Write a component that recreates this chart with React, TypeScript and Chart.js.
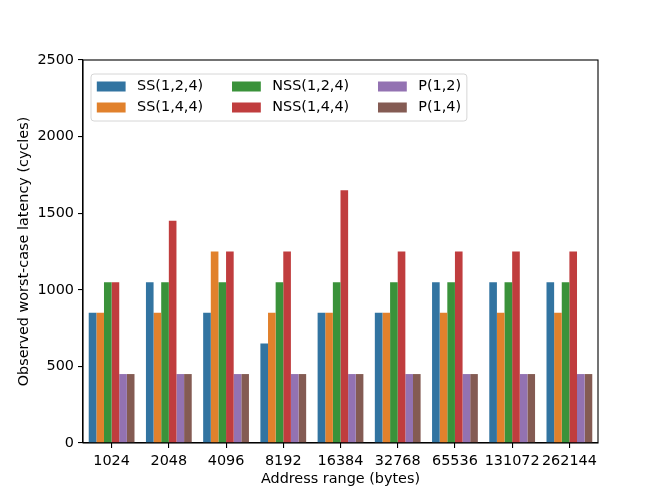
import React, { useEffect, useRef } from "react";
import { Chart, registerables } from "chart.js";

Chart.register(...registerables);

const categories = ["1024", "2048", "4096", "8192", "16384", "32768", "65536", "131072", "262144"];
const seriesLabels = ["SS(1,2,4)", "SS(1,4,4)", "NSS(1,2,4)", "NSS(1,4,4)", "P(1,2)", "P(1,4)"];
const ss124 = [850, 1050, 850, 650, 850, 850, 1050, 1050, 1050];
const ss144 = [850, 850, 1250, 850, 850, 850, 850, 850, 850];
const nss124 = [1050, 1050, 1050, 1050, 1050, 1050, 1050, 1050, 1050];
const nss144 = [1050, 1450, 1250, 1250, 1650, 1250, 1250, 1250, 1250];
const p12 = [450, 450, 450, 450, 450, 450, 450, 450, 450];
const p14 = [450, 450, 450, 450, 450, 450, 450, 450, 450];
const colors = ["#3274a1", "#e1812c", "#3a923a", "#c03d3e", "#9372b2", "#845b53"];

const FONT = "'DejaVu Sans', sans-serif";
const FS = 14.4;

const framePlugin = {
  id: "frame",
  afterDatasetsDraw(chart: any) {
    const { ctx, chartArea } = chart;
    ctx.save();
    ctx.strokeStyle = "#000";
    ctx.lineWidth = 1.1;
    ctx.strokeRect(chartArea.left, chartArea.top, chartArea.right - chartArea.left, chartArea.bottom - chartArea.top);
    ctx.restore();
  },
};

const legendPlugin = {
  id: "mplLegend",
  afterDraw(chart: any) {
    const { ctx, chartArea } = chart;
    const ds = chart.data.datasets;
    ctx.save();
    ctx.font = `${FS}px ${FONT}`;
    const rows = 2;
    const cols = Math.ceil(ds.length / rows);
    const handleW = 28.8;
    const handleH = 10;
    const textPad = 11.5;
    const colSpace = 28.8;
    const borderPad = 5.8;
    const boxLeft = chartArea.left + 8;
    const boxTop = chartArea.top + 14;
    const rowH = 21;
    const colWidths: number[] = [];
    for (let c = 0; c < cols; c++) {
      let w = 0;
      for (let r = 0; r < rows; r++) {
        const i = c * rows + r;
        if (i < ds.length) w = Math.max(w, ctx.measureText(ds[i].label).width);
      }
      colWidths.push(handleW + textPad + w);
    }
    const totalW = colWidths.reduce((a, b) => a + b, 0) + colSpace * (cols - 1) + borderPad * 2;
    const totalH = 47;
    const r = 3;
    ctx.beginPath();
    const x0 = boxLeft, y0 = boxTop, x1 = boxLeft + totalW, y1 = boxTop + totalH;
    ctx.moveTo(x0 + r, y0);
    ctx.lineTo(x1 - r, y0);
    ctx.quadraticCurveTo(x1, y0, x1, y0 + r);
    ctx.lineTo(x1, y1 - r);
    ctx.quadraticCurveTo(x1, y1, x1 - r, y1);
    ctx.lineTo(x0 + r, y1);
    ctx.quadraticCurveTo(x0, y1, x0, y1 - r);
    ctx.lineTo(x0, y0 + r);
    ctx.quadraticCurveTo(x0, y0, x0 + r, y0);
    ctx.closePath();
    ctx.fillStyle = "rgba(255,255,255,0.8)";
    ctx.fill();
    ctx.strokeStyle = "#d6d6d6";
    ctx.lineWidth = 1;
    ctx.stroke();
    let cx = boxLeft + borderPad;
    for (let c = 0; c < cols; c++) {
      for (let rr = 0; rr < rows; rr++) {
        const i = c * rows + rr;
        if (i >= ds.length) continue;
        const cy = boxTop + 12.5 + rr * rowH;
        ctx.fillStyle = ds[i].backgroundColor;
        ctx.fillRect(cx, cy - handleH / 2, handleW, handleH);
        ctx.fillStyle = "#000";
        ctx.textBaseline = "middle";
        ctx.textAlign = "left";
        ctx.fillText(ds[i].label, cx + handleW + textPad, cy);
      }
      cx += colWidths[c] + colSpace;
    }
    ctx.restore();
  },
};

export default function App() {
  const ref = useRef<HTMLCanvasElement | null>(null);
  useEffect(() => {
    document.body.style.margin = "0";
    if (!ref.current) return;
    const values = [ss124, ss144, nss124, nss144, p12, p14];
    const tickFont = { family: FONT, size: FS };
    const chart = new Chart(ref.current, {
      type: "bar",
      data: {
        labels: categories,
        datasets: values.map((v, i) => ({
          label: seriesLabels[i],
          data: v,
          backgroundColor: colors[i],
          borderWidth: 0,
          categoryPercentage: 0.8,
          barPercentage: 1.0,
        })),
      },
      options: {
        responsive: false,
        animation: false,
        layout: { padding: { left: 0, top: 60, right: 66, bottom: 0 } },
        plugins: { legend: { display: false }, tooltip: { enabled: false } },
        scales: {
          x: {
            offset: true,
            grid: { display: true, offset: false, drawOnChartArea: false, drawTicks: true, tickLength: 5, color: "#000", lineWidth: 1.1 },
            border: { display: true, color: "#000", width: 1.1 },
            ticks: { color: "#000", font: tickFont, padding: 5, maxRotation: 0, autoSkip: false },
            title: { display: true, text: "Address range (bytes)", color: "#000", font: tickFont, padding: { top: 0, bottom: 10.4 } },
            afterFit: (s: any) => { s.height = 55; },
          },
          y: {
            min: 0,
            max: 2500,
            grid: { display: true, drawOnChartArea: false, drawTicks: true, tickLength: 5, color: "#000", lineWidth: 1.1 },
            border: { display: true, color: "#000", width: 1.1 },
            ticks: { stepSize: 500, color: "#000", font: tickFont, padding: 4, callback: (v: any) => String(v) },
            title: { display: true, text: "Observed worst-case latency (cycles)", color: "#000", font: tickFont, padding: { top: 15.4, bottom: 0 } },
            afterFit: (s: any) => { s.width = 83; },
          },
        },
      },
      plugins: [framePlugin, legendPlugin],
    } as any);
    return () => chart.destroy();
  }, []);
  return (
    <div style={{ width: 664, height: 498 }}>
      <canvas ref={ref} width={664} height={498} style={{ width: 664, height: 498, display: "block" }} />
    </div>
  );
}
